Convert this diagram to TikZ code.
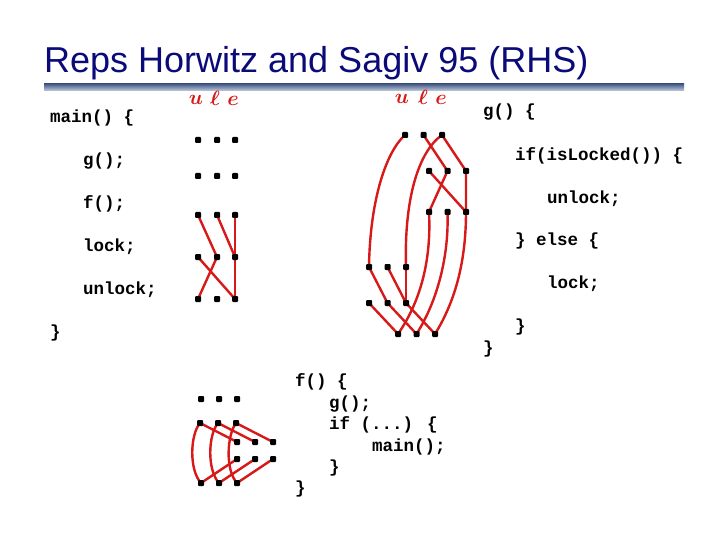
\documentclass[tikz,border=0pt]{standalone}
\usepackage{fontspec}
\setmainfont{Liberation Sans}
\newfontfamily\codefont{Liberation Mono}
\usetikzlibrary{backgrounds}
\definecolor{titleblue}{RGB}{10,10,120}
\definecolor{handred}{RGB}{215,25,25}
\definecolor{bartop}{RGB}{70,90,135}
\definecolor{barbot}{RGB}{195,208,222}
\tikzset{
  dot/.style={rectangle,rounded corners=1pt,fill=black,inner sep=0pt,minimum size=6pt},
  code/.style={anchor=mid west,inner sep=0pt,font=\codefont\bfseries\fontsize{17.5}{20}\selectfont},
  hand/.style={text=handred,inner sep=0pt,font=\fontsize{22}{24}\selectfont\boldmath},
  rl/.style={draw=handred,line width=2.4pt,line cap=round,line join=round}
}
\begin{document}
\begin{tikzpicture}[x=1pt,y=-1pt]
\useasboundingbox (0,0) rectangle (720,540);
% title
\node[anchor=base west,inner sep=0pt,text=titleblue,font=\fontsize{36}{40}\selectfont] (title) at (44,73) {Reps Horwitz and Sagiv 95 (RHS)};
\shade[top color=bartop,bottom color=barbot] (44,84) rectangle (684,91);

% main code
\node[code] (c1) at (50,120) {main() \{};
\node[code] (c2) at (83,163) {g();};
\node[code] (c3) at (83,206) {f();};
\node[code] (c4) at (83,249) {lock;};
\node[code] (c5) at (83,292) {unlock;};
\node[code] (c6) at (50,335) {\}};

% g code
\node[code] (d1) at (483,114) {g() \{};
\node[code] (d2) at (515,158) {if(isLocked()) \{};
\node[code] (d3) at (547,201) {unlock;};
\node[code] (d4) at (515,243) {\} else \{};
\node[code] (d5) at (547,286) {lock;};
\node[code] (d6) at (515,329) {\}};
\node[code] (d7) at (483,351) {\}};

% f code
\node[code] (e1) at (295,384) {f() \{};
\node[code] (e2) at (329,406) {g();};
\node[code] (e3) at (329,427) {if (...) \{};
\node[code] (e4) at (372,449) {main();};
\node[code] (e5) at (329,470) {\}};
\node[code] (e6) at (295,491) {\}};

% hand labels
\node[hand] (hu1) at (196,100) {$u$};
\node[hand] (hl1) at (215,98) {$\ell$};
\node[hand] (he1) at (233,101) {$e$};
\node[hand] (hu2) at (402,99) {$u$};
\node[hand] (hl2) at (423,97) {$\ell$};
\node[hand] (he2) at (441,100) {$e$};

% main dots
\foreach \r/\y in {1/140,2/176,3/215,4/257,5/299}{
  \node[dot] (m\r u) at (198,\y) {};
  \node[dot] (m\r l) at (217,\y) {};
  \node[dot] (m\r e) at (235,\y) {};
}
% g dots
\foreach \r/\y/\xa in {A/135/405,B/171/429,C/212/429,D/267/369,E/303/369,F/334/398}{
  \node[dot] (g\r u) at (\xa,\y) {};
  \node[dot] (g\r l) at (\xa+18.5,\y) {};
  \node[dot] (g\r e) at (\xa+37,\y) {};
}
% f dots
\foreach \r/\y/\xa in {1/399/201,2/423/200,3/442/237,4/459/237,5/483/201}{
  \node[dot] (f\r u) at (\xa,\y) {};
  \node[dot] (f\r l) at (\xa+18,\y) {};
  \node[dot] (f\r e) at (\xa+36,\y) {};
}

\begin{pgfonlayer}{background}
% main: lock then unlock
\draw[rl] (m3u.center) -- (m4l.center);
\draw[rl] (m3l.center) -- (m4e.center);
\draw[rl] (m3e.center) -- (m4e.center) -- (m5e.center);
\draw[rl] (m4u.center) -- (m5e.center);
\draw[rl] (m4l.center) -- (m5u.center);

% g
\draw[rl] (gAu.center) .. controls (386,152) and (370,200) .. (gDu.center);
\draw[rl] (gAe.center) .. controls (418,152) and (404,200) .. (gDe.center);
\draw[rl] (gAl.center) -- (gBl.center);
\draw[rl] (gAe.center) -- (gBe.center) -- (gCe.center);
\draw[rl] (gBu.center) -- (gCe.center);
\draw[rl] (gBl.center) -- (gCu.center);
\draw[rl] (gCu.center) .. controls (431,250) and (425,295) .. (gFu.center);
\draw[rl] (gCl.center) .. controls (449,255) and (438,300) .. (gFl.center);
\draw[rl] (gCe.center) .. controls (466,260) and (456,300) .. (gFe.center);
\draw[rl] (gDu.center) -- (gEl.center);
\draw[rl] (gDl.center) -- (gEe.center);
\draw[rl] (gDe.center) -- (gEe.center);
\draw[rl] (gEu.center) -- (gFu.center);
\draw[rl] (gEl.center) -- (gFl.center);
\draw[rl] (gEe.center) -- (gFe.center);

% f
\draw[rl] (f2u.center) -- (f3u.center);
\draw[rl] (f2l.center) -- (f3l.center);
\draw[rl] (f2e.center) -- (f3e.center);
\draw[rl] (f4u.center) -- (f5u.center);
\draw[rl] (f4l.center) -- (f5l.center);
\draw[rl] (f4e.center) -- (f5e.center);
\draw[rl] (f2u.center) .. controls (190,435) and (189,470) .. (f5u.center);
\draw[rl] (f2l.center) .. controls (208,435) and (207,470) .. (f5l.center);
\draw[rl] (f2e.center) .. controls (227,435) and (225,470) .. (f5e.center);
\end{pgfonlayer}
\end{tikzpicture}
\end{document}
